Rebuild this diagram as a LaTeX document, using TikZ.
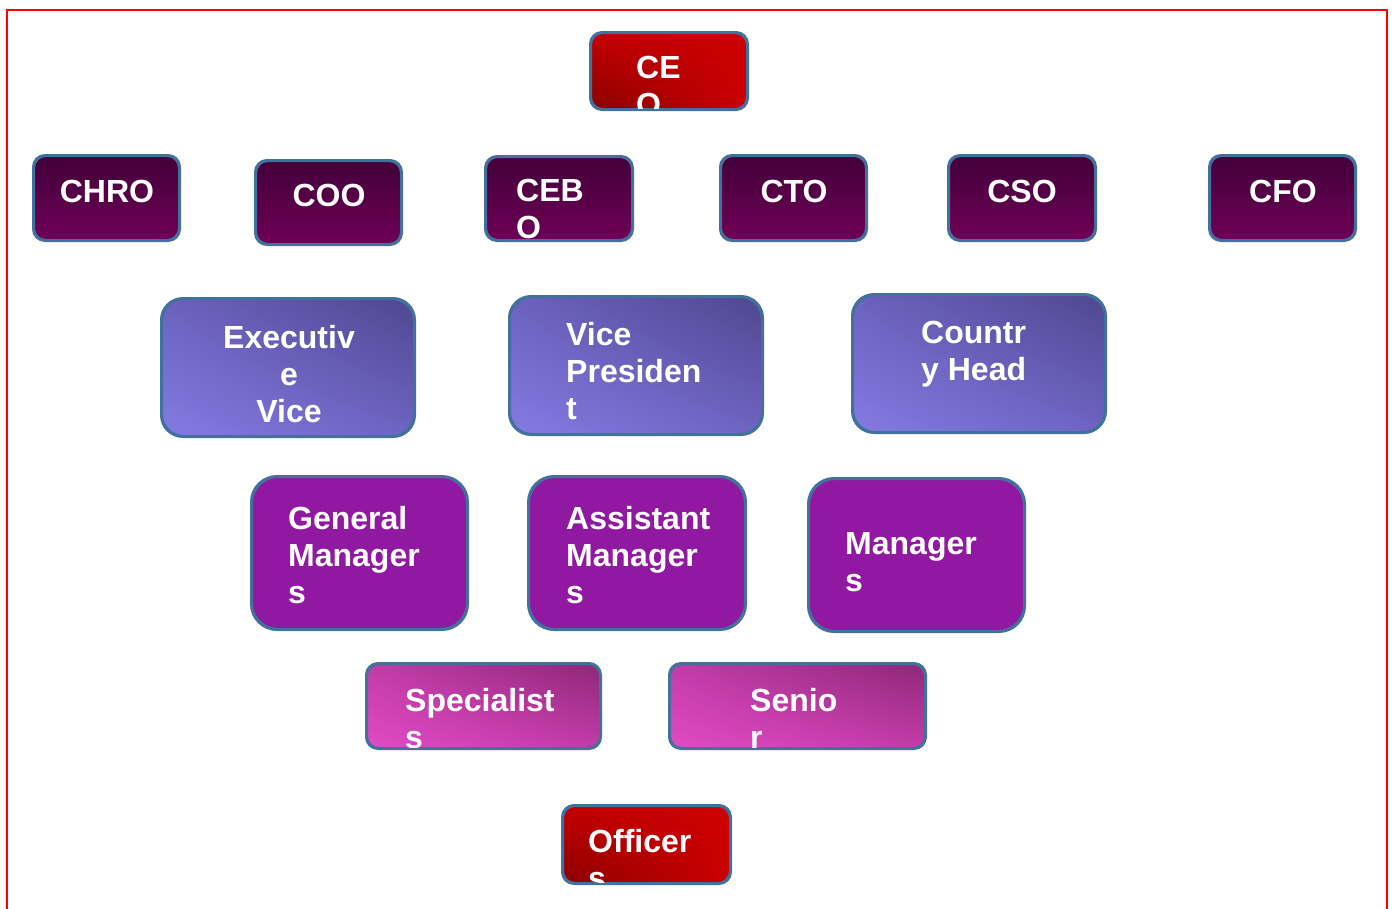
\documentclass[tikz,border=0pt]{standalone}
\usepackage{fontspec}
\setmainfont{Liberation Sans}
\usetikzlibrary{shadings}
\begin{document}
\begin{tikzpicture}[x=1pt,y=-1pt,
  boxline/.style={draw=frameblue, line width=2pt},
  execbox/.style={boxline, top color=execTop, bottom color=execBot},
  redbox/.style={boxline, lower left=redDark, upper left=redMid, upper right=redMain, lower right=redMain},
  vpbox/.style={boxline, lower left=vpLL, upper left=vpUL, upper right=vpUR, lower right=vpLR},
  mgrbox/.style={boxline, fill=mgrFill},
  specbox/.style={boxline, lower left=spLL, upper left=spUL, upper right=spUR, lower right=spLR},
  label/.style={inner sep=0pt, text=white, font=\fontsize{32}{37}\selectfont\bfseries}]
\definecolor{frameblue}{HTML}{41719C}
\definecolor{execTop}{HTML}{43003A}
\definecolor{execBot}{HTML}{6E0056}
\definecolor{redDark}{HTML}{8A0000}
\definecolor{redMid}{HTML}{C40000}
\definecolor{redMain}{HTML}{CC0000}
\definecolor{vpLL}{HTML}{847AE2}
\definecolor{vpUL}{HTML}{6C62BE}
\definecolor{vpUR}{HTML}{4F4790}
\definecolor{vpLR}{HTML}{6E64C2}
\definecolor{mgrFill}{HTML}{9118A0}
\definecolor{spLL}{HTML}{E24AC4}
\definecolor{spUL}{HTML}{C23CA8}
\definecolor{spUR}{HTML}{8E2878}
\definecolor{spLR}{HTML}{C23CA8}

\useasboundingbox (0,0) rectangle (1394,908);
\fill[white] (0,0) rectangle (1394,908);

% outer frame, open at the bottom edge of the page
\draw[red, line width=2.5pt] (7,920) -- (7,10) -- (1387,10) -- (1387,920);

% \orgbox{name}{style}{x1}{y1}{x2}{y2}{radius}{anchor}{tx}{ty}{lines}
\newcommand\orgbox[9]{%
  \node[#2, rounded corners=#7, minimum width=#5-#3, minimum height=#6-#4, inner sep=0pt]
    (#1) at ({(#3+#5)/2},{(#4+#6)/2}) {};
  \def\obname{#1}\def\obrad{#7}\def\obanchor{#8}\def\obx{#9}%
  \orgboxtext}
\newcommand\orgboxtext[2]{%
  \begin{scope}
    \clip[rounded corners=\obrad] (\obname.south west) rectangle (\obname.north east);
    \node[label, anchor=\obanchor] (\obname-text) at (\obx,#1) {#2};
  \end{scope}
  \draw[boxline, rounded corners=\obrad] (\obname.south west) rectangle (\obname.north east);}
\newcommand\leftlines[1]{\vtop{\halign{##\hfil\cr#1\crcr}}}
\newcommand\midlines[1]{\vtop{\halign{\hfil##\hfil\cr#1\crcr}}}

% top
\orgbox{ceo}{redbox}{591}{33}{747}{109}{12pt}{base west}{636}{78}{\leftlines{CE\cr O}}

% executive row
\orgbox{chro}{execbox}{34}{156}{179}{240}{12pt}{base}{107}{202}{CHRO}
\orgbox{coo}{execbox}{256}{161}{401}{244}{12pt}{base}{329}{206}{COO}
\orgbox{cebo}{execbox}{486}{157}{632}{240}{12pt}{base west}{516}{201}{\leftlines{CEB\cr O}}
\orgbox{cto}{execbox}{721}{156}{866}{240}{12pt}{base}{794}{202}{CTO}
\orgbox{cso}{execbox}{949}{156}{1095}{240}{12pt}{base}{1022}{202}{CSO}
\orgbox{cfo}{execbox}{1210}{156}{1355}{240}{12pt}{base}{1283}{202}{CFO}

% vice presidents
\orgbox{evp}{vpbox}{162}{299}{414}{436}{22pt}{base}{289}{348}{\midlines{Executiv\cr e\cr Vice}}
\orgbox{vp}{vpbox}{510}{297}{762}{434}{22pt}{base west}{566}{345}{\leftlines{Vice\cr Presiden\cr t}}
\orgbox{ch}{vpbox}{853}{295}{1105}{432}{22pt}{base west}{921}{343}{\leftlines{Countr\cr y Head}}

% managers
\orgbox{gm}{mgrbox}{252}{477}{467}{629}{26pt}{base west}{288}{529}{\leftlines{General\cr Manager\cr s}}
\orgbox{am}{mgrbox}{529}{477}{745}{629}{26pt}{base west}{566}{529}{\leftlines{Assistant\cr Manager\cr s}}
\orgbox{mg}{mgrbox}{809}{479}{1024}{631}{26pt}{base west}{845}{554}{\leftlines{Manager\cr s}}

% staff
\orgbox{sp}{specbox}{367}{664}{600}{748}{12pt}{base west}{405}{711}{\leftlines{Specialist\cr s}}
\orgbox{sr}{specbox}{670}{664}{925}{748}{12pt}{base west}{750}{711}{\leftlines{Senio\cr r}}

% bottom
\orgbox{off}{redbox}{563}{806}{730}{883}{12pt}{base west}{588}{852}{\leftlines{Officer\cr s}}
\end{tikzpicture}
\end{document}
